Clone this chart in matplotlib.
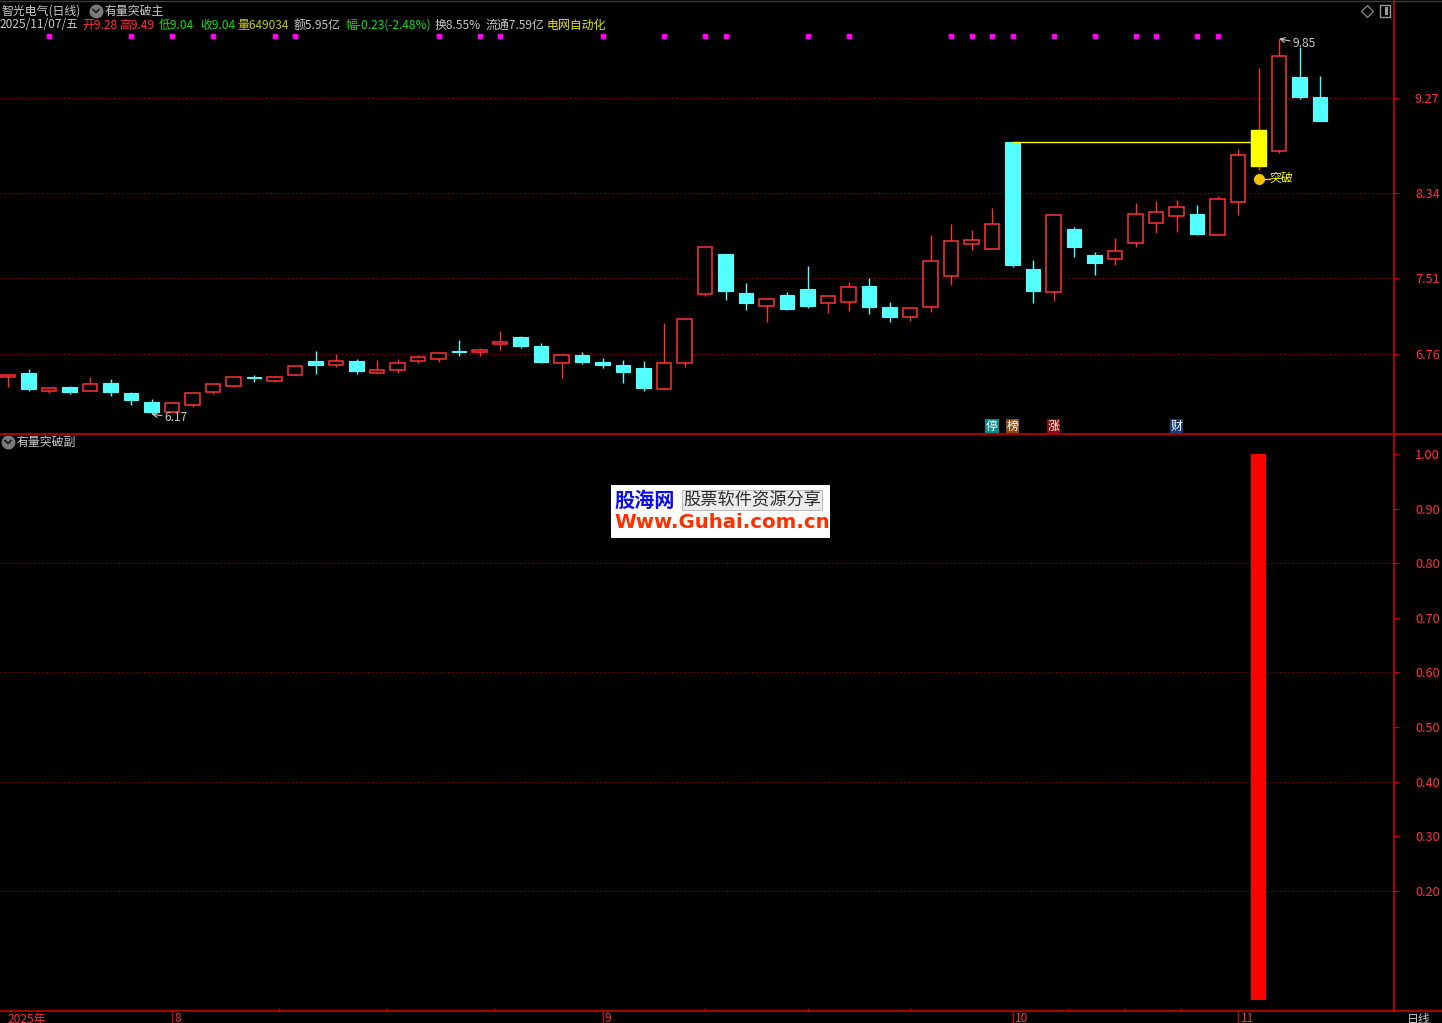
import matplotlib
matplotlib.use("Agg")
import matplotlib.pyplot as plt
import matplotlib.transforms as mtransforms
from matplotlib.lines import Line2D
from matplotlib.patches import Rectangle

plt.rcParams['font.family'] = ['Noto Sans CJK SC', 'DejaVu Sans']

# 日K数据 (2025/07/22 ~ 2025/11/07)
opens = [6.53, 6.57, 6.40, 6.44, 6.40, 6.48, 6.38, 6.29, 6.19, 6.26,
         6.39, 6.45, 6.53, 6.50, 6.55, 6.69, 6.65, 6.69, 6.57, 6.60,
         6.69, 6.71, 6.79, 6.78, 6.86, 6.93, 6.84, 6.67, 6.75, 6.68,
         6.65, 6.62, 6.42, 6.67, 7.35, 7.74, 7.36, 7.23, 7.34, 7.40,
         7.26, 7.27, 7.43, 7.22, 7.12, 7.22, 7.52, 7.84, 7.79, 8.84,
         7.59, 7.37, 7.99, 7.73, 7.69, 7.85, 8.04, 8.11, 8.13, 7.93,
         8.25, 8.60, 8.75, 9.48, 9.28]
highs = [6.56, 6.61, 6.43, 6.45, 6.53, 6.51, 6.39, 6.32, 6.29, 6.38,
         6.47, 6.53, 6.55, 6.54, 6.64, 6.79, 6.76, 6.71, 6.70, 6.71,
         6.75, 6.77, 6.90, 6.82, 6.99, 6.94, 6.87, 6.75, 6.78, 6.72,
         6.70, 6.69, 7.06, 7.10, 7.81, 7.74, 7.46, 7.31, 7.37, 7.62,
         7.33, 7.47, 7.51, 7.27, 7.21, 7.93, 8.03, 7.98, 8.19, 8.84,
         7.68, 8.12, 8.01, 7.76, 7.90, 8.24, 8.26, 8.27, 8.22, 8.31,
         8.77, 9.56, 9.85, 9.77, 9.49]
lows = [6.44, 6.40, 6.38, 6.37, 6.40, 6.35, 6.26, 6.17, 6.18, 6.24,
        6.37, 6.44, 6.49, 6.49, 6.55, 6.56, 6.63, 6.56, 6.57, 6.57,
        6.67, 6.68, 6.74, 6.74, 6.80, 6.82, 6.67, 6.52, 6.66, 6.62,
        6.48, 6.40, 6.42, 6.63, 7.33, 7.29, 7.19, 7.07, 7.19, 7.21,
        7.16, 7.18, 7.15, 7.07, 7.08, 7.17, 7.44, 7.78, 7.79, 7.61,
        7.26, 7.28, 7.71, 7.53, 7.63, 7.81, 7.95, 7.96, 7.93, 7.93,
        8.12, 8.56, 8.73, 9.26, 9.04]
closes = [6.55, 6.42, 6.43, 6.39, 6.47, 6.39, 6.31, 6.19, 6.28, 6.38,
          6.47, 6.53, 6.52, 6.53, 6.64, 6.65, 6.69, 6.59, 6.60, 6.67,
          6.73, 6.77, 6.78, 6.80, 6.88, 6.84, 6.68, 6.75, 6.68, 6.65,
          6.58, 6.43, 6.67, 7.10, 7.81, 7.38, 7.26, 7.30, 7.20, 7.23,
          7.33, 7.42, 7.22, 7.12, 7.21, 7.67, 7.87, 7.88, 8.03, 7.63,
          7.38, 8.12, 7.81, 7.65, 7.77, 8.13, 8.15, 8.20, 7.94, 8.28,
          8.71, 8.96, 9.68, 9.28, 9.04]

# 有量突破副 信号
signal = [0, 0, 0, 0, 0, 0, 0, 0, 0, 0,
          0, 0, 0, 0, 0, 0, 0, 0, 0, 0,
          0, 0, 0, 0, 0, 0, 0, 0, 0, 0,
          0, 0, 0, 0, 0, 0, 0, 0, 0, 0,
          0, 0, 0, 0, 0, 0, 0, 0, 0, 0,
          0, 0, 0, 0, 0, 0, 0, 0, 0, 0,
          0, 1, 0, 0, 0]

ref_idx = 49            # 突破参考K线 (高点)
dot_idx = [2, 6, 8, 10, 13, 14, 21, 23, 24, 29, 32, 34, 35, 39, 41,
           46, 47, 48, 49, 51, 53, 55, 56, 58, 59]
badges = [(48, "停", "#0a8a8a"), (49, "榜", "#8b4a14"),
          (51, "涨", "#8b0a0a"), (57, "财", "#143c78")]
price_ticks = [6.76, 7.51, 8.34, 9.27]
sub_ticks = [0.2, 0.3, 0.4, 0.5, 0.6, 0.7, 0.8, 0.9, 1.0]
sub_grid = [0.2, 0.4, 0.6, 0.8]
month_idx = [8, 29, 49, 60]
month_lbl = ["8", "9", "10", "11"]
minor_idx = [13.2, 18.5, 23.7, 34, 39, 44, 51.7, 54.5, 57.2]

header = [("2025/11/07/五", "#c8c8c8", 0), ("开9.28", "#ff3232", 82),
          ("高9.49", "#ff3232", 119), ("低9.04", "#10dc10", 159),
          ("收9.04", "#10dc10", 200), ("量649034", "#c8c800", 237),
          ("额5.95亿", "#c8c8c8", 294), ("幅-0.23(-2.48%)", "#10dc10", 345),
          ("换8.55%", "#c8c8c8", 435), ("流通7.59亿", "#c8c8c8", 486),
          ("电网自动化", "#e6e600", 547)]

RED = "#ff3232"
CYAN = "#54ffff"
FRAME = "#c80000"
GRAY = "#c8c8c8"
GRID = "#9a0000"

W, H = 1442, 1023
fig = plt.figure(figsize=(W / 100, H / 100), dpi=100, facecolor="black")


def fx(x):
    return x / W


def fy(y):
    return 1 - y / H


ax = fig.add_axes([0, fy(434), fx(1394), 434 / H], facecolor="black")
sub = fig.add_axes([0, fy(1011), fx(1394), (1011 - 434) / H], facecolor="black")

xlim = (-8 / 20.5, (1394 - 8) / 20.5)

# ---- 主图 K线 ----
for i in range(len(opens)):
    o, h, l, c = opens[i], highs[i], lows[i], closes[i]
    up = c >= o
    col = RED if up else CYAN
    ax.vlines(i, l, h, color=col, lw=1.0, zorder=2)
    bottom = min(o, c)
    height = max(abs(c - o), 0.012)
    if signal[i]:
        ax.bar(i, height, bottom=bottom, width=0.73, color="#ffff00",
               edgecolor="#ffff00", lw=1.0, zorder=3)
    elif up:
        ax.bar(i, height, bottom=bottom, width=0.70, color="black",
               edgecolor=RED, lw=1.1, zorder=3)
    else:
        ax.bar(i, height, bottom=bottom, width=0.73, color=CYAN,
               edgecolor=CYAN, lw=0.8, zorder=3)

# 突破线
brk = signal.index(1)
ax.plot([ref_idx, brk - 0.37], [highs[ref_idx], highs[ref_idx]],
        color="#ffff00", lw=1.0, zorder=4)
ax.plot([brk, brk + 0.55], [lows[brk] - 0.08, lows[brk] - 0.08],
        color="#ffd000", lw=1.0, zorder=4)
ax.plot(brk, lows[brk] - 0.08, "o", color="#f5c400", ms=7, zorder=5)
ax.text(brk + 0.55, lows[brk] - 0.08, "突破", color="#ffff00",
        fontsize=8.6, va="center", ha="left", zorder=5)

# 最高/最低 标注
lo_i = lows.index(min(lows))
hi_i = highs.index(max(highs))
ax.annotate(f"{min(lows):.2f}", xy=(lo_i, min(lows)), xytext=(9.5, -2.5),
            textcoords="offset points", color=GRAY, fontsize=8.6,
            va="center", ha="left",
            arrowprops=dict(arrowstyle="->", color=GRAY, lw=0.8,
                            shrinkA=0, shrinkB=0))
ax.annotate(f"{max(highs):.2f}", xy=(hi_i, max(highs)), xytext=(10, -3.5),
            textcoords="offset points", color=GRAY, fontsize=8.6,
            va="center", ha="left",
            arrowprops=dict(arrowstyle="->", color=GRAY, lw=0.8,
                            shrinkA=0, shrinkB=0))

# 顶部紫色点
top_tr = mtransforms.blended_transform_factory(ax.transData, ax.transAxes)
ax.plot(dot_idx, [1 - 36 / 434] * len(dot_idx), "s", color="#ff00ff",
        ms=2.6, transform=top_tr, zorder=5)

# 底部信息标签
for idx, ch, bg in badges:
    ax.text(idx, 1 - 426 / 434, ch, transform=top_tr, color="white",
            fontsize=8.6, ha="center", va="center",
            bbox=dict(boxstyle="square,pad=0.06", fc=bg, ec="none"))

ax.set_xlim(*xlim)
ax.set_ylim(9.27 - 336 * 0.009805, 9.27 + 98 * 0.009805)
ax.set_yticks(price_ticks)
ax.set_yticklabels([f"{v:.2f}" for v in price_ticks])
ax.yaxis.tick_right()
ax.tick_params(axis="y", colors=FRAME, labelcolor=RED, labelsize=9.2,
               length=3.6, width=0.8, pad=11.5)
ax.set_xticks([])
ax.grid(axis="y", color=GRID, linestyle=(0, (1.2, 2.6)), lw=0.8)
for s in ["top", "left", "bottom"]:
    ax.spines[s].set_visible(False)
ax.spines["right"].set_color(FRAME)
ax.spines["right"].set_linewidth(1.2)

# ---- 副图 ----
sub.bar(range(len(signal)), signal, width=0.78, color="#ff0000", zorder=3)
sub.set_xlim(*xlim)
sub.set_ylim(-0.0201, 1.0366)
sub.set_yticks(sub_ticks)
sub.set_yticklabels([f"{v:.2f}" for v in sub_ticks])
sub.yaxis.tick_right()
sub.tick_params(axis="y", colors=FRAME, labelcolor=RED, labelsize=9.2,
                length=3.6, width=0.8, pad=11.5)
for g in sub_grid:
    sub.axhline(g, color=GRID, linestyle=(0, (1.2, 2.6)), lw=0.8, zorder=1)
sub.set_xticks(month_idx)
sub.set_xticklabels([])
sub.set_xticks(minor_idx, minor=True)
sub.tick_params(axis="x", which="major", direction="out", length=9,
                color=FRAME, width=1.0)
sub.tick_params(axis="x", which="minor", direction="in", length=2.5,
                color=FRAME, width=0.8)
for s in ["top", "left"]:
    sub.spines[s].set_visible(False)
sub.spines["right"].set_color(FRAME)
sub.spines["right"].set_linewidth(1.2)
sub.spines["bottom"].set_color(FRAME)
sub.spines["bottom"].set_linewidth(1.2)

bot_tr = mtransforms.blended_transform_factory(sub.transData, fig.transFigure)
for idx, lbl in zip(month_idx, month_lbl):
    sub.text(idx + 0.12, fy(1019), lbl, transform=bot_tr, color=RED,
             fontsize=8.6, ha="left", va="center")
fig.text(fx(8), fy(1019), "2025年", color=RED, fontsize=8.6, va="center")
fig.text(fx(1407), fy(1019), "日线", color=GRAY, fontsize=8.6, va="center")

# 分隔线
fig.add_artist(Line2D([0, 1], [fy(434), fy(434)], color=FRAME, lw=1.2,
                      transform=fig.transFigure))
fig.add_artist(Line2D([fx(1394), 1], [fy(1011), fy(1011)], color=FRAME,
                      lw=1.2, transform=fig.transFigure))
fig.add_artist(Line2D([0, 1], [fy(0.5), fy(0.5)], color="#3c3c3c", lw=1.0,
                      transform=fig.transFigure))


# ---- 标题栏 ----
def menu_icon(x, y):
    fig.add_artist(Line2D([fx(x)], [fy(y)], marker="o", ms=9, color="#7a7a7a",
                          transform=fig.transFigure))
    fig.add_artist(Line2D([fx(x - 3), fx(x), fx(x + 3)],
                          [fy(y - 1.5), fy(y + 1.5), fy(y - 1.5)],
                          color="#1a1a1a", lw=1.2, transform=fig.transFigure))


fig.text(fx(2), fy(11), "智光电气(日线)", color=GRAY, fontsize=8.6, va="center")
menu_icon(96, 11)
fig.text(fx(105), fy(11), "有量突破主", color=GRAY, fontsize=8.6, va="center")
for txt, col, x in header:
    fig.text(fx(x), fy(25), txt, color=col, fontsize=8.6, va="center")

menu_icon(8, 442)
fig.text(fx(17), fy(442), "有量突破副", color=GRAY, fontsize=8.6, va="center")

# 右上角图标
fig.add_artist(Line2D([fx(1367)], [fy(11)], marker="D", ms=6, mfc="none",
                      mec="#8a8a8a", mew=0.9, transform=fig.transFigure))
fig.patches.append(Rectangle((fx(1380), fy(17)), fx(10), 12 / H, fill=False,
                             ec="#9a9a9a", lw=1.0, transform=fig.transFigure))
fig.patches.append(Rectangle((fx(1385), fy(15)), fx(3), 8 / H, fc="#9a9a9a",
                             ec="none", transform=fig.transFigure))

# ---- 水印 ----
fig.patches.append(Rectangle((fx(611), fy(538)), fx(219), 53 / H, fc="white",
                             ec="none", transform=fig.transFigure, zorder=10))
fig.text(fx(614), fy(500), "股海网", color="#0a0aff", fontsize=14.5,
         fontweight="bold", va="center", zorder=11)
fig.text(fx(683), fy(500), "股票软件资源分享", color="#2a2a2a", fontsize=12.4,
         va="center", zorder=11,
         bbox=dict(boxstyle="square,pad=0.05", fc="#ececec", ec="#b0b0b0",
                   lw=0.6))
fig.text(fx(614), fy(522), "Www.Guhai.com.cn", color="#ff3000", fontsize=14.2,
         fontweight="bold", family="DejaVu Sans", va="center", zorder=11)

fig.savefig("out.png", dpi=100, facecolor="black")
